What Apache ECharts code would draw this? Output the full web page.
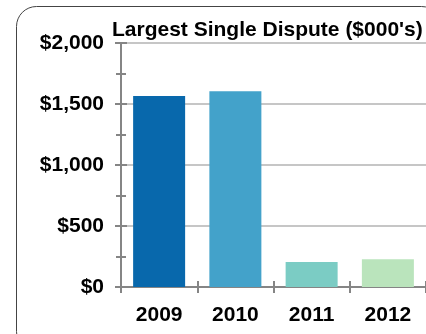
<!DOCTYPE html>
<html>
<head>
<meta charset="utf-8">
<script src="https://cdn.jsdelivr.net/npm/echarts@6/dist/echarts.min.js"></script>
<style>
html,body{margin:0;padding:0;background:#fff;}
#chart{width:426px;height:334px;}
</style>
</head>
<body>
<div id="chart"></div>
<script>
const titleText = "Largest Single Dispute ($000's)";
const categories = ["2009", "2010", "2011", "2012"];
const values = [1565, 1605, 205, 228];
const barColors = ["#0868AC", "#43A2CA", "#7BCCC4", "#BAE4BC"];
const yTickValues = [0, 500, 1000, 1500, 2000];

const chart = echarts.init(document.getElementById('chart'), null, {renderer: 'canvas'});
const font = "'Liberation Sans', Arial, sans-serif";
const axisColor = '#858585';

const yBase = {
  type: 'value', min: 0, max: 2000, interval: 500,
  axisLine: {show: true, lineStyle: {color: axisColor, width: 2}},
  minorTick: {show: true, splitNumber: 2, length: 5, lineStyle: {color: axisColor, width: 2}},
  axisTick: {show: true, length: 6, lineStyle: {color: axisColor, width: 2}}
};
const xBase = {
  type: 'category', data: categories,
  axisLine: {show: true, lineStyle: {color: axisColor, width: 2}},
  axisTick: {show: true, length: 6, alignWithLabel: false, lineStyle: {color: axisColor, width: 2}}
};

chart.setOption({
  animation: false,
  backgroundColor: '#fff',
  title: {
    text: titleText, left: 112, top: 20, padding: 0,
    textStyle: {fontFamily: font, fontSize: 21, fontWeight: 'bold', color: '#000'}
  },
  graphic: [{
    type: 'rect', z: -1,
    shape: {x: 16.5, y: 6.5, width: 425, height: 345, r: 20},
    style: {fill: 'none', stroke: '#444', lineWidth: 1}
  }],
  grid: {left: 121, top: 43, width: 311, bottom: 47, containLabel: false},
  xAxis: [
    Object.assign({}, xBase, {
      axisLabel: {fontFamily: font, fontSize: 21, fontWeight: 'bold', color: '#000', margin: 18}
    }),
    Object.assign({}, xBase, {
      position: 'bottom', axisLabel: {show: false},
      axisTick: {show: true, inside: true, length: 6, lineStyle: {color: axisColor, width: 2}}
    })
  ],
  yAxis: [
    Object.assign({}, yBase, {
      splitLine: {show: true, lineStyle: {color: '#c6c6c6', width: 2}},
      axisLabel: {
        fontFamily: font, fontSize: 21, fontWeight: 'bold', color: '#000', margin: 17,
        formatter: v => '$' + v.toLocaleString('en-US')
      }
    }),
    Object.assign({}, yBase, {
      position: 'left', splitLine: {show: false}, axisLabel: {show: false},
      axisTick: {show: true, inside: true, length: 6, lineStyle: {color: axisColor, width: 2}}
    })
  ],
  series: [{
    type: 'bar', xAxisIndex: 0, yAxisIndex: 0,
    barWidth: 52,
    data: values.map((v, i) => ({value: v, itemStyle: {color: barColors[i]}}))
  }]
});
</script>
</body>
</html>
